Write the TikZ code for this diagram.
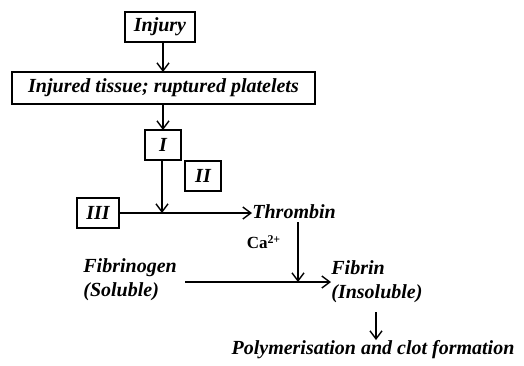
\documentclass[tikz,border=0pt]{standalone}
\usepackage{fontspec}
\setmainfont{Liberation Serif}
\usetikzlibrary{arrows.meta}
\begin{document}
\begin{tikzpicture}[x=0.5pt,y=-0.5pt,
  box/.style={draw,line width=0.9pt,inner sep=0pt,font=\fontsize{10}{12}\selectfont\bfseries\itshape},
  lbl/.style={inner sep=0pt,font=\fontsize{10}{12}\selectfont\bfseries\itshape,align=left},
  conn/.style={line width=0.7pt,-{Straight Barb[length=4pt,width=6pt]}},
  plain/.style={line width=0.7pt}]
\useasboundingbox (0,0) rectangle (524,365);
\node[box,minimum width=35pt,minimum height=15pt] (injury) at (160,27) {Injury};
\node[box,minimum width=151.5pt,minimum height=16pt] (tissue) at (163.5,88) {Injured tissue; ruptured platelets};
\node[box,minimum width=18pt,minimum height=15pt] (f1) at (163,145) {I};
\node[box,minimum width=18pt,minimum height=15pt] (f2) at (203,176) {II};
\node[box,minimum width=21pt,minimum height=15pt] (f3) at (98,213) {III};
\coordinate (j) at (162,213);
\node[lbl,anchor=west] (thrombin) at (252,212) {Thrombin};
\coordinate (k) at (298,282);
\node[lbl,font=\fontsize{8.5}{10}\selectfont\bfseries] (ca) at (264,242) {Ca\textsuperscript{2+}};
\node[lbl,anchor=west] (fibrinogen) at (83,280) {Fibrinogen\\(Soluble)};
\node[lbl,anchor=west] (fibrin) at (331,282) {Fibrin\\(Insoluble)};
\node[lbl] (poly) at (373,350) {Polymerisation and clot formation};

\draw[conn] (injury.south -| 163,0) -- (163,72);
\draw[conn] (163,104) -- (163,130);
\draw[conn] (f1.south -| j) -- (j);
\draw[conn] (f3.east) -- (thrombin.west |- f3.east);
\draw[conn] (298,222) -- (k);
\draw[conn] (185,282) -- (fibrin.west);
\draw[conn] (376,312) -- (376,340);
\end{tikzpicture}
\end{document}
